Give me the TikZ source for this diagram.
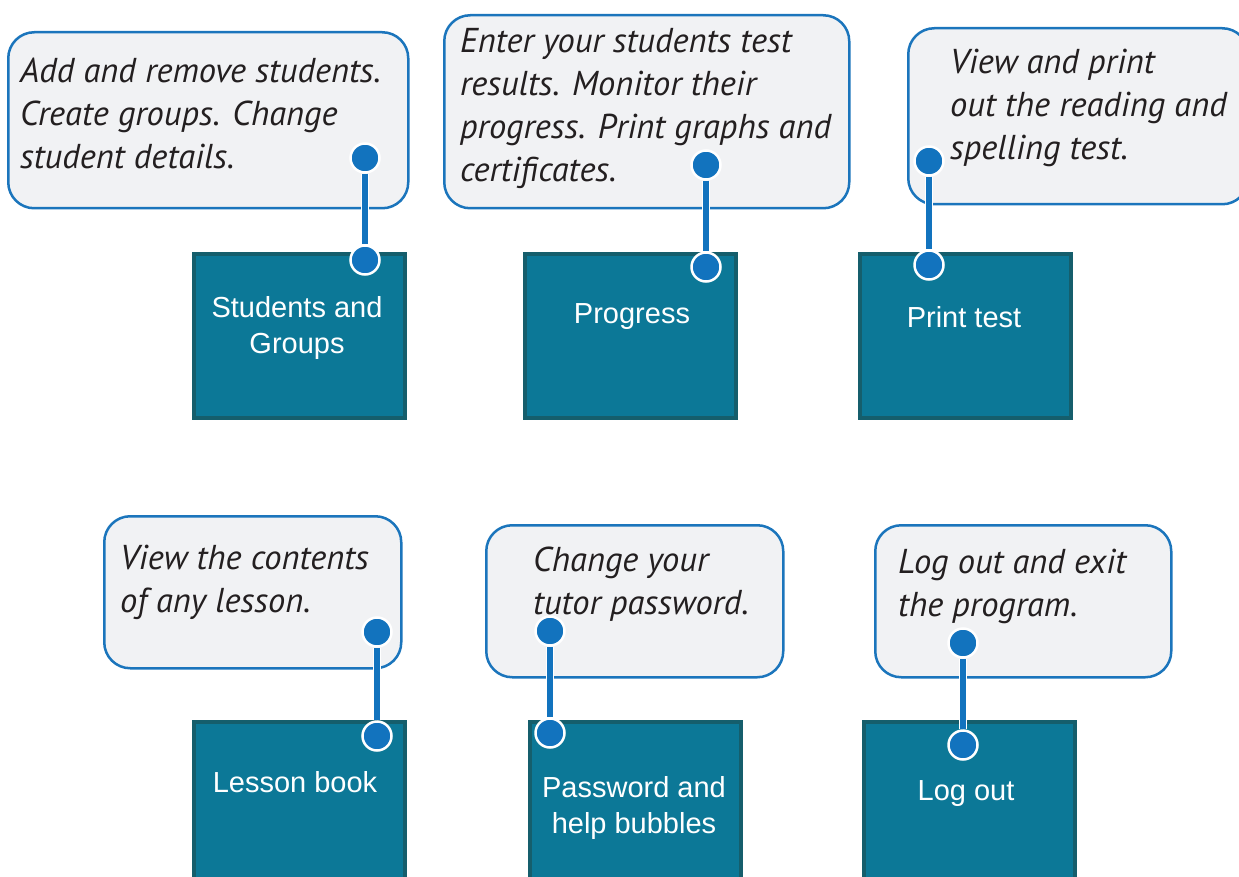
\documentclass[tikz,border=0pt]{standalone}
\usepackage{fontspec}
\setmainfont{Liberation Sans}
\newfontfamily\tipfont{PT Sans}
\definecolor{boxfill}{HTML}{0C7897}
\definecolor{boxedge}{HTML}{155E6C}
\definecolor{tipblue}{HTML}{1B75BC}
\definecolor{tipgray}{HTML}{F1F2F4}
\definecolor{pinblue}{HTML}{1273BE}
\definecolor{tipink}{HTML}{231F20}
\begin{document}
\begin{tikzpicture}[x=1pt,y=-1pt,
    tip/.style={draw=tipblue,line width=2.5pt,fill=tipgray,rounded corners=26pt,
      anchor=north west,inner sep=0pt},
    tiptext/.style={anchor=base west,align=left,inner sep=0pt,text=tipink,
      font=\tipfont\itshape\fontsize{34.5}{43}\selectfont},
    menubox/.style={draw=boxedge,line width=4pt,fill=boxfill,anchor=north west,
      minimum width=211pt,minimum height=164pt,inner sep=0pt},
    boxtext/.style={anchor=base,align=center,inner sep=0pt,text=white,
      font=\fontsize{29}{36}\selectfont},
    pin/.style={circle,fill=pinblue,draw=white,line width=2.5pt,
      minimum size=29pt,inner sep=0pt},
    stem/.style={draw=white,line width=1.2pt,double=pinblue,double distance=5.5pt}]
    \useasboundingbox (0,0) rectangle (1239,877);
    \clip (0,0) rectangle (1239,877);
    % top row (notes sit on the baseline of their last line)
    \node[tip,minimum width=400pt,minimum height=176pt] (sgtip) at (7,31) {};
    \node[tip,minimum width=405pt,minimum height=193pt] (prtip) at (443,14) {};
    \node[tip,minimum width=340pt,minimum height=176pt] (pttip) at (907,27) {};
    \node[tiptext] (sgnote) at (20,169) {Add and remove students.\\Create groups. Change\\student details.};
    \node[tiptext] (prnote) at (460,182) {Enter your students test\\results. Monitor their\\progress. Print graphs and\\certificates.};
    \node[tiptext] (ptnote) at (950,160) {View and print\\out the reading and\\spelling test.};
    \node[menubox] (sg) at (192,252) {};
    \node[menubox] (pr) at (523,252) {};
    \node[menubox] (pt) at (858,252) {};
    \node[boxtext] (sglabel) at (297,353) {Students and\\Groups};
    \node[boxtext] (prlabel) at (632,323) {Progress};
    \node[boxtext] (ptlabel) at (964,327) {Print test};
    % bottom row
    \node[tip,minimum width=297pt,minimum height=152pt] (lbtip) at (103,515) {};
    \node[tip,minimum width=297pt,minimum height=152pt] (pwtip) at (485,524) {};
    \node[tip,minimum width=296pt,minimum height=152pt] (lotip) at (874,524) {};
    \node[tiptext] (lbnote) at (120,612) {View the contents\\of any lesson.};
    \node[tiptext] (pwnote) at (533,614) {Change your\\tutor password.};
    \node[tiptext] (lonote) at (898,616) {Log out and exit\\the program.};
    \node[menubox] (lb) at (192,720) {};
    \node[menubox] (pw) at (528,720) {};
    \node[menubox] (lo) at (862,720) {};
    \node[boxtext] (lblabel) at (295,792) {Lesson book};
    \node[boxtext] (pwlabel) at (634,833) {Password and\\help bubbles};
    \node[boxtext] (lolabel) at (966,800) {Log out};
    % pins and stems
    \foreach \name/\px/\ya/\yb in {sg/365/158/260, pr/706/165/267, pt/929/161/265,
        lb/377/632/736, pw/550/631/733, lo/963/643/745} {
      \node[pin] (\name top) at (\px,\ya) {};
      \node[pin] (\name pin) at (\px,\yb) {};
      \draw[stem] (\name top) -- (\name pin);
    }
\end{tikzpicture}
\end{document}
